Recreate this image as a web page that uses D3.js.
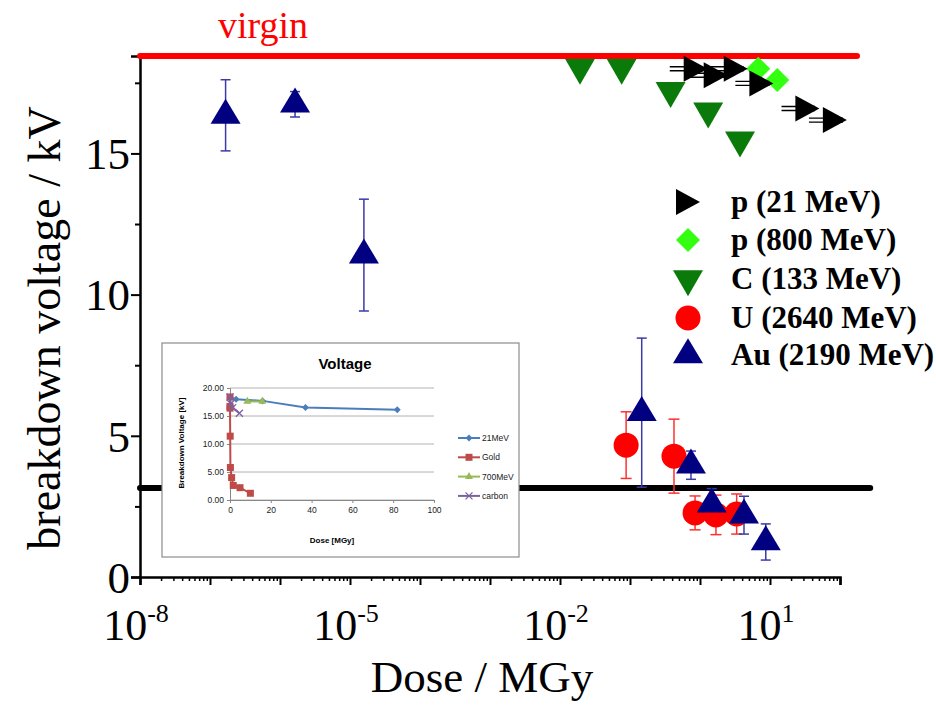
<!DOCTYPE html>
<html>
<head>
<meta charset="utf-8">
<script src="https://cdn.jsdelivr.net/npm/d3@7"></script>
<style>
body { margin: 0; background: #fff; }
</style>
</head>
<body>
<div id="chart"></div>
<script>
// ---- main plot data (dose in MGy, breakdown voltage in kV) ----
var p21Dose   = [0.76, 1.47, 2.84, 6.6, 30, 74];
var p21Volt   = [18.0, 17.77, 18.0, 17.48, 16.59, 16.18];
var p21DoseLo = [0.37, 0.72, 1.38, 3.2, 14.6, 36];
var p21DoseHi = [1.1, 2.2, 4.2, 9.8, 44, 110];

var p800Dose = [6.8, 12.7];
var p800Volt = [18.0, 17.6];

var c133Dose = [0.0193, 0.076, 0.38, 1.31, 3.73];
var c133Volt = [18.05, 18.05, 17.22, 16.5, 15.47];

var uDose = [0.088, 0.425, 0.85, 1.69, 3.34];
var uVolt = [4.67, 4.28, 2.27, 2.2, 2.23];
var uErr  = [1.18, 1.31, 0.6, 0.7, 0.71];

var auDose = [1.67e-7, 1.64e-6, 1.58e-5, 0.147, 0.743, 1.47, 4.25, 8.7];
var auVolt = [16.35, 16.74, 11.4, 5.82, 3.96, 2.58, 2.19, 1.24];
var auErr  = [1.26, 0.45, 1.98, 2.64, 0.5, 0.55, 0.67, 0.64];

var virginVolt = 18.45;
var virginEnd = 175;
var limitVolt = 3.15;
var limitEnd = 270;

var yTicks = [0, 5, 10, 15];
var yMinor = [2.5, 7.5, 12.5, 17.5];
var xLabelTicks = [-8, -5, -2, 1];

var legendNames = ["p (21 MeV)", "p (800 MeV)", "C (133 MeV)", "U (2640 MeV)", "Au (2190 MeV)"];

// ---- inset data ----
var inMeVDose  = [0, 3, 16, 37, 82];
var inMeVVolt  = [18.3, 18.0, 17.7, 16.5, 16.1];
var inGoldDose = [0, 0, 0, 0.1, 0.2, 0.8, 1.6, 4.9, 10];
var inGoldVolt = [18.4, 16.4, 16.7, 11.4, 5.8, 4.0, 2.6, 2.2, 1.2];
var in700Dose  = [8.5, 15.8];
var in700Volt  = [17.6, 17.6];
var inCarbDose = [0, 0.4, 1.3, 4.6];
var inCarbVolt = [18.4, 17.2, 16.5, 15.5];
var inYTicks = [0, 5, 10, 15, 20];
var inXTicks = [0, 20, 40, 60, 80, 100];
var inLegend = ["21MeV", "Gold", "700MeV", "carbon"];

var W = 936, H = 705;
var serif = "'Liberation Serif', 'Times New Roman', serif";

var svg = d3.select("#chart").append("svg")
    .attr("width", W)
    .attr("height", H)

var x = d3.scaleLog().domain([1e-8, 1e2]).range([140, 840]);
var y = d3.scaleLinear().domain([0, virginVolt]).range([577, 56]);

// marker paths, centred on centroid
function triUp(w, h) {
    return "M0," + (-2 * h / 3) + "L" + (w / 2) + "," + (h / 3) + "L" + (-w / 2) + "," + (h / 3) + "Z";
}
function triDown(w, h) {
    return "M0," + (2 * h / 3) + "L" + (w / 2) + "," + (-h / 3) + "L" + (-w / 2) + "," + (-h / 3) + "Z";
}
function triRight(w, h) {
    return "M" + (2 * w / 3) + ",0L" + (-w / 3) + "," + (-h / 2) + "L" + (-w / 3) + "," + (h / 2) + "Z";
}
function diamond(r) {
    return "M0," + (-r) + "L" + r + ",0L0," + r + "L" + (-r) + ",0Z";
}

// ---- axes ----
var yAxis = svg.append("g")
    .attr("transform", "translate(140,0)")
    .call(d3.axisLeft(y).tickValues(yTicks).tickSize(9).tickPadding(1).tickFormat(d3.format("d")))
yAxis.select(".domain").attr("stroke-width", 2.5)
yAxis.selectAll(".tick line").attr("stroke-width", 2)
yAxis.selectAll("text")
    .attr("font-family", serif)
    .attr("font-size", 45)
    .attr("fill", "#000")
    .attr("dy", "0.34em")

var yMinorAxis = svg.append("g")
    .attr("transform", "translate(140,0)")
    .call(d3.axisLeft(y).tickValues(yMinor).tickSize(5).tickFormat(""))
yMinorAxis.select(".domain").remove()
yMinorAxis.selectAll(".tick line").attr("stroke-width", 2)

var minorX = [];
for (var e = -8; e < 2; e++) {
    for (var m = 2; m < 10; m++) minorX.push(m * Math.pow(10, e));
}
var majorX = d3.range(-8, 3).map(function (e) { return Math.pow(10, e); });

var xAxis = svg.append("g")
    .attr("transform", "translate(0,577)")
    .call(d3.axisBottom(x).tickValues(majorX).tickSize(8).tickFormat(""))
xAxis.select(".domain").attr("stroke-width", 2.5)
xAxis.selectAll(".tick line").attr("stroke-width", 2)

var xMinorAxis = svg.append("g")
    .attr("transform", "translate(0,577)")
    .call(d3.axisBottom(x).tickValues(minorX).tickSize(4).tickFormat(""))
xMinorAxis.select(".domain").remove()
xMinorAxis.selectAll(".tick line").attr("stroke-width", 1.5)

var xl = svg.append("g").selectAll("text")
    .data(xLabelTicks)
    .enter().append("text")
    .attr("x", function (d) { return x(Math.pow(10, d)) - 4; })
    .attr("y", 640)
    .attr("text-anchor", "middle")
    .attr("font-family", serif)
    .attr("font-size", 44)
xl.append("tspan").text("10")
xl.append("tspan")
    .attr("dy", -18)
    .attr("font-size", 26)
    .text(function (d) { return d; })

svg.append("text")
    .attr("x", 482)
    .attr("y", 692)
    .attr("text-anchor", "middle")
    .attr("font-family", serif)
    .attr("font-size", 45)
    .text("Dose / MGy")

svg.append("text")
    .attr("transform", "translate(60,328) rotate(-90)")
    .attr("text-anchor", "middle")
    .attr("font-family", serif)
    .attr("font-size", 46)
    .text("breakdown voltage / kV")

// ---- reference lines ----
svg.append("line")
    .attr("x1", x(1e-8)).attr("x2", x(limitEnd))
    .attr("y1", y(limitVolt)).attr("y2", y(limitVolt))
    .attr("stroke", "#000")
    .attr("stroke-width", 6)
    .attr("stroke-linecap", "round")

svg.append("line")
    .attr("x1", x(1e-8)).attr("x2", x(virginEnd))
    .attr("y1", y(virginVolt)).attr("y2", y(virginVolt))
    .attr("stroke", "#ff0000")
    .attr("stroke-width", 6)
    .attr("stroke-linecap", "round")

svg.append("text")
    .attr("x", 263)
    .attr("y", 38)
    .attr("text-anchor", "middle")
    .attr("font-family", serif)
    .attr("font-size", 38)
    .attr("fill", "#ff0000")
    .text("virgin")

// ---- inset (drawn over the threshold line) ----
var inset = svg.append("g")
inset.append("rect")
    .attr("x", 162).attr("y", 343)
    .attr("width", 357).attr("height", 214)
    .attr("fill", "#fff")
    .attr("stroke", "#8c8c8c")
    .attr("stroke-width", 1.2)

var xi = d3.scaleLinear().domain([0, 100]).range([230, 434]);
var yi = d3.scaleLinear().domain([0, 20]).range([500, 388]);
var sans = "'Liberation Sans', Arial, sans-serif";

inset.append("g").selectAll("line")
    .data(inYTicks)
    .enter().append("line")
    .attr("x1", xi(0)).attr("x2", xi(100))
    .attr("y1", function (d) { return yi(d); })
    .attr("y2", function (d) { return yi(d); })
    .attr("stroke", "#a0a0a0")
    .attr("stroke-width", 0.8)

var ixa = inset.append("g")
    .attr("transform", "translate(0," + yi(0) + ")")
    .call(d3.axisBottom(xi).tickValues(inXTicks).tickSize(3).tickPadding(4))
ixa.selectAll("text").attr("font-family", sans).attr("font-size", 8.5).attr("fill", "#222")
ixa.selectAll("line, path").attr("stroke", "#888")

var iya = inset.append("g")
    .attr("transform", "translate(" + xi(0) + ",0)")
    .call(d3.axisLeft(yi).tickValues(inYTicks).tickSize(3).tickPadding(3).tickFormat(d3.format(".2f")))
iya.selectAll("text").attr("font-family", sans).attr("font-size", 8.5).attr("fill", "#222")
iya.selectAll("line, path").attr("stroke", "#888")

inset.append("text")
    .attr("x", 345).attr("y", 369)
    .attr("text-anchor", "middle")
    .attr("font-family", sans)
    .attr("font-weight", "bold")
    .attr("font-size", 15)
    .text("Voltage")

inset.append("text")
    .attr("x", 332).attr("y", 543)
    .attr("text-anchor", "middle")
    .attr("font-family", sans)
    .attr("font-weight", "bold")
    .attr("font-size", 8)
    .text("Dose [MGy]")

inset.append("text")
    .attr("transform", "translate(184,443) rotate(-90)")
    .attr("text-anchor", "middle")
    .attr("font-family", sans)
    .attr("font-weight", "bold")
    .attr("font-size", 8)
    .text("Breakdown Voltage [kV]")

var inSeries = [
    { dose: inMeVDose, volt: inMeVVolt, color: "#4a7ebb", mark: "diamond" },
    { dose: inGoldDose, volt: inGoldVolt, color: "#be4b48", mark: "square" },
    { dose: in700Dose, volt: in700Volt, color: "#98b954", mark: "triangle" },
    { dose: inCarbDose, volt: inCarbVolt, color: "#7d60a0", mark: "cross" }
];

function inMarker(g, mark, color) {
    if (mark == "diamond") g.append("path").attr("d", diamond(3.5)).attr("fill", color)
    if (mark == "square") g.append("rect").attr("x", -3.5).attr("y", -3.5).attr("width", 7).attr("height", 7).attr("fill", color)
    if (mark == "triangle") g.append("path").attr("d", triUp(8, 7)).attr("fill", color)
    if (mark == "cross") g.append("path").attr("d", "M-3.5,-3.5L3.5,3.5M-3.5,3.5L3.5,-3.5").attr("stroke", color).attr("stroke-width", 1.3)
}

inSeries.forEach(function (s, k) {
    var pts = s.dose.map(function (d, i) { return [d, s.volt[i]]; });
    var line = d3.line()
        .x(function (d) { return xi(d[0]); })
        .y(function (d) { return yi(d[1]); })
    inset.append("path")
        .attr("d", line(pts))
        .attr("fill", "none")
        .attr("stroke", s.color)
        .attr("stroke-width", 2)
    pts.forEach(function (p) {
        var g = inset.append("g").attr("transform", "translate(" + xi(p[0]) + "," + yi(p[1]) + ")")
        inMarker(g, s.mark, s.color)
    })
    var ly = 438 + k * 19.3;
    inset.append("line")
        .attr("x1", 458).attr("x2", 480)
        .attr("y1", ly).attr("y2", ly)
        .attr("stroke", s.color)
        .attr("stroke-width", 2)
    inMarker(inset.append("g").attr("transform", "translate(469," + ly + ")"), s.mark, s.color)
    inset.append("text")
        .attr("x", 482).attr("y", ly + 3)
        .attr("font-family", sans)
        .attr("font-size", 8.5)
        .attr("fill", "#222")
        .text(inLegend[k])
})

// ---- error bars ----
var navyBar = "#3a3aa8";
var redBar = "#ff3030";

function vBars(dose, volt, err, color, cap) {
    var g = svg.append("g")
    dose.forEach(function (d, i) {
        var cx = x(d), y1 = y(volt[i] + err[i]), y2 = y(volt[i] - err[i]);
        g.append("line").attr("x1", cx).attr("x2", cx).attr("y1", y1).attr("y2", y2)
            .attr("stroke", color).attr("stroke-width", 1.5)
        g.append("line").attr("x1", cx - cap).attr("x2", cx + cap).attr("y1", y1).attr("y2", y1)
            .attr("stroke", color).attr("stroke-width", 1.5)
        g.append("line").attr("x1", cx - cap).attr("x2", cx + cap).attr("y1", y2).attr("y2", y2)
            .attr("stroke", color).attr("stroke-width", 1.5)
    })
}
vBars(uDose, uVolt, uErr, redBar, 5.5)
vBars(auDose, auVolt, auErr, navyBar, 5)

// ---- markers ----
svg.append("g").selectAll("path")
    .data(c133Dose)
    .enter().append("path")
    .attr("d", triDown(30, 26))
    .attr("transform", function (d, i) { return "translate(" + x(d) + "," + y(c133Volt[i]) + ")"; })
    .attr("fill", "#0a7a0a")

svg.append("g").selectAll("circle")
    .data(uDose)
    .enter().append("circle")
    .attr("cx", function (d) { return x(d); })
    .attr("cy", function (d, i) { return y(uVolt[i]); })
    .attr("r", 12.5)
    .attr("fill", "#ff0000")

svg.append("g").selectAll("path")
    .data(auDose)
    .enter().append("path")
    .attr("d", triUp(30, 25))
    .attr("transform", function (d, i) { return "translate(" + x(d) + "," + y(auVolt[i]) + ")"; })
    .attr("fill", "#000080")

svg.append("g").selectAll("path")
    .data(p800Dose)
    .enter().append("path")
    .attr("d", diamond(12))
    .attr("transform", function (d, i) { return "translate(" + x(d) + "," + y(p800Volt[i]) + ")"; })
    .attr("fill", "#33ff11")

// p (21 MeV): horizontal error bars drawn as a double line
var pg = svg.append("g")
p21Dose.forEach(function (d, i) {
    var cy = y(p21Volt[i]);
    [-2, 2].forEach(function (o) {
        pg.append("line")
            .attr("x1", x(p21DoseLo[i])).attr("x2", x(p21DoseHi[i]))
            .attr("y1", cy + o).attr("y2", cy + o)
            .attr("stroke", "#000").attr("stroke-width", 1.4)
    })
    pg.append("path")
        .attr("d", triRight(24, 26))
        .attr("transform", "translate(" + x(d) + "," + cy + ")")
        .attr("fill", "#000")
})

// ---- legend ----
var legY = [202, 240, 279, 318, 355];
var legMarks = [
    { d: triRight(24, 26), c: "#000", dx: -4 },
    { d: diamond(12), c: "#33ff11", dx: 0 },
    { d: triDown(30, 26), c: "#0a7a0a", dx: 0 },
    { d: null, c: "#ff0000", dx: 0 },
    { d: triUp(30, 25), c: "#000080", dx: 0 }
];
legMarks.forEach(function (m, i) {
    if (m.d) {
        svg.append("path")
            .attr("d", m.d)
            .attr("transform", "translate(" + (688 + m.dx) + "," + legY[i] + ")")
            .attr("fill", m.c)
    } else {
        svg.append("circle").attr("cx", 688).attr("cy", legY[i]).attr("r", 12.5).attr("fill", m.c)
    }
    svg.append("text")
        .attr("x", 731)
        .attr("y", legY[i] + 10)
        .attr("font-family", serif)
        .attr("font-weight", "bold")
        .attr("font-size", 31)
        .text(legendNames[i])
})
</script>
</body>
</html>
